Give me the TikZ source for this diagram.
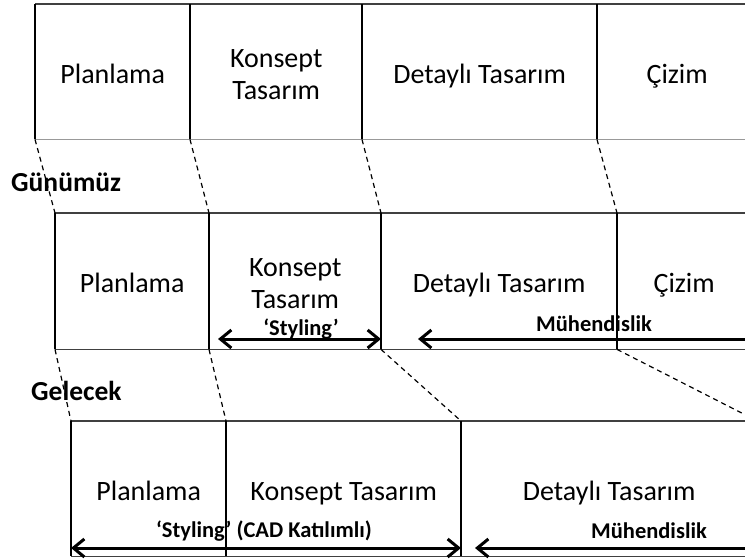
\documentclass[tikz,border=0pt]{standalone}
\usepackage{fontspec}
\setmainfont{Carlito}
\usetikzlibrary{arrows.meta}
\begin{document}
\begin{tikzpicture}[x=1pt,y=-1pt,
  cell/.style={draw=none,inner sep=0pt,anchor=north west,align=center,
    font=\fontsize{28}{32}\selectfont},
  celltext/.style={inner sep=0pt,align=center,yshift=-5pt,
    font=\fontsize{28}{32}\selectfont},
  hline/.style={draw=black!75,line width=1.3pt},
  hlinelight/.style={draw=black!40,line width=1.6pt},
  vline/.style={draw=black,line width=1.3pt},
  guide/.style={draw=black,line width=1.2pt,dash pattern=on 5pt off 4pt},
  rowlabel/.style={font=\fontsize{27.5}{30}\bfseries\selectfont,anchor=west,inner sep=0pt},
  arrowlabel/.style={font=\fontsize{22.5}{26}\bfseries\selectfont,inner sep=0pt},
  twoway/.style={line width=3pt,{Straight Barb[length=11pt,width=18pt]}-{Straight Barb[length=11pt,width=18pt]}},
  oneway/.style={line width=3pt,-{Straight Barb[length=11pt,width=18pt]}}]
\useasboundingbox (0,0) rectangle (745,558);
\clip (0,0) rectangle (745,558);
% row 1 cells
\node[cell,minimum width=155pt,minimum height=135pt] (a1) at (35,4) {};
\node[cell,minimum width=172pt,minimum height=135pt] (b1) at (190,4) {};
\node[cell,minimum width=235pt,minimum height=135pt] (c1) at (362,4) {};
\node[cell,minimum width=160pt,minimum height=135pt] (d1) at (597,4) {};
% row 2 cells
\node[cell,minimum width=154pt,minimum height=136pt] (a2) at (55,213) {};
\node[cell,minimum width=172pt,minimum height=136pt] (b2) at (209,213) {};
\node[cell,minimum width=236pt,minimum height=136pt] (c2) at (381,213) {};
\node[cell,minimum width=134pt,minimum height=136pt] (d2) at (617,213) {};
% row 3 cells
\node[cell,minimum width=155pt,minimum height=135pt] (a3) at (71,421) {};
\node[cell,minimum width=235pt,minimum height=135pt] (b3) at (226,421) {};
\node[cell,minimum width=296pt,minimum height=135pt] (c3) at (461,421) {};
% cell texts
\node[celltext] (ta1) at (a1.center) {\strut Planlama};
\node[celltext] (tb1) at (b1.center) {\strut Konsept\\\strut Tasarım};
\node[celltext] (tc1) at (c1.center) {\strut Detaylı Tasarım};
\node[celltext] (td1) at (d1.center) {\strut Çizim};
\node[celltext] (ta2) at (a2.center) {\strut Planlama};
\node[celltext] (tb2) at (b2.center) {\strut Konsept\\\strut Tasarım};
\node[celltext] (tc2) at (c2.center) {\strut Detaylı Tasarım};
\node[celltext] (td2) at (d2.center) {\strut Çizim};
\node[celltext] (ta3) at (a3.center) {\strut Planlama};
\node[celltext] (tb3) at (b3.center) {\strut Konsept Tasarım};
\node[celltext] (tc3) at (c3.center) {\strut Detaylı Tasarım};
% row labels
\node[rowlabel] (now) at (11,182) {Günümüz};
\node[rowlabel] (future) at (31,391) {Gelecek};
% row 1 lines
\draw[hline] (a1.north west) -- (d1.north east);
\draw[hlinelight] (a1.south west) -- (d1.south east);
\foreach \c in {a1,b1,c1,d1} \draw[vline] (\c.north west) -- (\c.south west);
% row 2 lines
\draw[hline] (a2.north west) -- (d2.north east);
\draw[hline] (a2.south west) -- (d2.south east);
\foreach \c in {a2,b2,c2,d2} \draw[vline] (\c.north west) -- (\c.south west);
% row 3 lines
\draw[hline] (a3.north west) -- (c3.north east);
\draw[hline] (a3.south west) -- (c3.south east);
\foreach \c in {a3,b3,c3} \draw[vline] (\c.north west) -- (\c.south west);
% dashed guides
\draw[guide] (a1.south west) -- (a2.north west);
\draw[guide] (b1.south west) -- (b2.north west);
\draw[guide] (c1.south west) -- (c2.north west);
\draw[guide] (d1.south west) -- (d2.north west);
\draw[guide] (a2.south west) -- (a3.north west);
\draw[guide] (b2.south west) -- (b3.north west);
\draw[guide] (c2.south west) -- (c3.north west);
\draw[guide] (d2.south west) -- (c3.north east);
% row 2 arrows
\coordinate (s2l) at (218,339);
\coordinate (s2r) at (381,339);
\coordinate (m2l) at (418,339);
\coordinate (m2r) at (760,339);
\node[arrowlabel] (sty2) at (301,329) {‘Styling’};
\node[arrowlabel] (muh2) at (594,324) {Mühendislik};
\draw[twoway] (s2l) -- (s2r);
\draw[oneway] (m2r) -- (m2l);
\draw[vline] (d2.north west) -- (d2.south west);
% row 3 arrows
\coordinate (s3l) at (71,548);
\coordinate (s3r) at (461,548);
\coordinate (m3l) at (475,548);
\coordinate (m3r) at (760,548);
\node[arrowlabel] (sty3) at (264,531) {‘Styling’ (CAD Katılımlı)};
\node[arrowlabel] (muh3) at (649,531) {Mühendislik};
\draw[twoway] (s3l) -- (s3r);
\draw[oneway] (m3r) -- (m3l);
\draw[vline] (b3.north west) -- (b3.south west);
\end{tikzpicture}
\end{document}
